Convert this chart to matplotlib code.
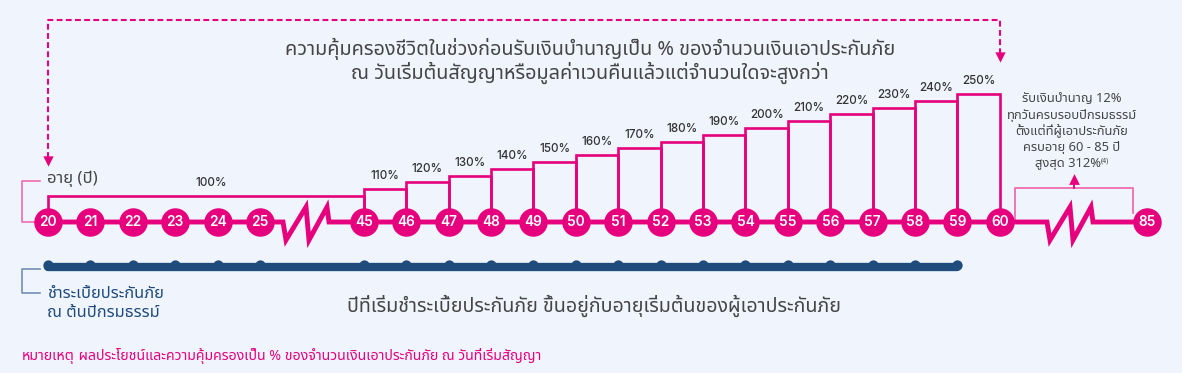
import matplotlib
matplotlib.use('Agg')
import matplotlib.pyplot as plt
from matplotlib import font_manager
from matplotlib.ft2font import FT2Font

# find an installed font that has Thai glyphs
def has_thai(path):
    try:
        return 0x0E01 in FT2Font(path).get_charmap()
    except Exception:
        return False

thai_fonts = []
for f in font_manager.fontManager.ttflist:
    if f.name not in thai_fonts and has_thai(f.fname):
        thai_fonts.append(f.name)
preferred = ['Noto Sans Thai', 'Noto Sans Thai UI', 'Noto Sans Thai Looped', 'Sarabun', 'Loma', 'Garuda', 'Waree']
thai_fonts.sort(key=lambda n: preferred.index(n) if n in preferred else 99)
plt.rcParams['font.family'] = thai_fonts[:1] + ['DejaVu Sans']
NUM_FONT = ['Inter', 'DejaVu Sans']

# ---- data ----
ages_early = [20, 21, 22, 23, 24, 25]
ages_late = [45, 46, 47, 48, 49, 50, 51, 52, 53, 54, 55, 56, 57, 58, 59, 60]
age_end = 85
# coverage % for each step: 20-45, then 45-46 ... 59-60
step_start = [20, 45, 46, 47, 48, 49, 50, 51, 52, 53, 54, 55, 56, 57, 58, 59]
step_end = [45, 46, 47, 48, 49, 50, 51, 52, 53, 54, 55, 56, 57, 58, 59, 60]
cover_pct = [100, 110, 120, 130, 140, 150, 160, 170, 180, 190, 200, 210, 220, 230, 240, 250]
pay_ages = ages_early + ages_late[:-1]  # premium paid at start of each policy year, 20..59

title_lines = ['ความคุ้มครองชีวิตในช่วงก่อนรับเงินบำนาญเป็น % ของจำนวนเงินเอาประกันภัย',
               'ณ วันเริ่มต้นสัญญาหรือมูลค่าเวนคืนแล้วแต่จำนวนใดจะสูงกว่า']
pension_lines = ['รับเงินบำนาญ 12%', 'ทุกวันครบรอบปีกรมธรรม์', 'ตั้งแต่ที่ผู้เอาประกันภัย',
                 'ครบอายุ 60 - 85 ปี', 'สูงสุด 312%']
age_label = 'อายุ (ปี)'
pay_label = ['ชำระเบี้ยประกันภัย', 'ณ ต้นปีกรมธรรม์']
pay_note = 'ปีที่เริ่มชำระเบี้ยประกันภัย ขึ้นอยู่กับอายุเริ่มต้นของผู้เอาประกันภัย'
note_head = 'หมายเหตุ'
note_text = ' ผลประโยชน์และความคุ้มครองเป็น % ของจำนวนเงินเอาประกันภัย ณ วันที่เริ่มสัญญา'

# ---- layout ----
W, H = 1182, 373
PX = 42.4            # pixels per age slot
X0 = 48              # pixel x of first circle
GAP1 = 2.45          # slots between 25 and 45
GAP2 = 3.47          # slots between 60 and 85
PCT_PX = 0.68        # pixels per percent
Y100 = 196           # pixel row of the 100% level

PINK = '#E6007E'
LPINK = '#EF6CB0'
NAVY = '#1F4B7D'
GRAY = '#454545'
BG = '#F0F5FD'

slot = {a: i for i, a in enumerate(ages_early)}
for i, a in enumerate(ages_late):
    slot[a] = len(ages_early) - 1 + GAP1 + i
slot[age_end] = slot[ages_late[-1]] + GAP2


def yv(py):
    # pixel row -> axis units (percent scale)
    return 100 + (Y100 - py) / PCT_PX


def xv(px):
    return (px - X0) / PX


base = yv(222)

fig = plt.figure(figsize=(W / 100, H / 100), dpi=100, facecolor=BG)
ax = fig.add_axes([0, 0, 1, 1])
ax.set_facecolor(BG)
ax.set_xlim(xv(0), xv(W))
ax.set_ylim(yv(H), yv(0))
ax.axis('off')

# dashed arrow from top
top = yv(20)
ax.plot([slot[20], slot[20], slot[60], slot[60]], [yv(158), top, top, yv(53)],
        color=PINK, lw=1.5, ls=(0, (2.8, 1.6)), zorder=2)
ax.scatter([slot[20], slot[60]], [yv(161), yv(57)], marker='v', s=55, color=PINK, lw=0, zorder=2)

# titles
for i, line in enumerate(title_lines):
    ax.text(xv(590), yv(49 + 24 * i), line, ha='center', va='center', fontsize=14.3, color=GRAY)

# coverage steps
for s, e, p in zip(step_start, step_end, cover_pct):
    ax.plot([slot[s], slot[s], slot[e], slot[e]], [base, p, p, base], color=PINK, lw=1.9,
            solid_joinstyle='miter', zorder=3)
    ax.text((slot[s] + slot[e]) / 2 + (0.12 if s == 20 else 0), p + 7 / PCT_PX, f'{p}%',
            ha='center', va='bottom', fontsize=8.4, color='#333333', family=NUM_FONT, fontweight='medium')

# baseline with zigzag breaks
zig_dx = [0, 3, 23, 26, 44, 46]
zig_dy = [0, -18, 15, -18, 15, 0]


def zigzag(x_start_px):
    return [xv(x_start_px + d) for d in zig_dx], [base + d / PCT_PX for d in zig_dy]


zx1, zy1 = zigzag(283)
zx2, zy2 = zigzag(1047)
ax.plot([slot[20]] + zx1 + [slot[45], slot[60]] + zx2 + [slot[85]],
        [base] + zy1 + [base, base] + zy2 + [base], color=PINK, lw=3.5,
        solid_joinstyle='miter', zorder=4)

# circles
all_ages = ages_early + ages_late + [age_end]
ax.scatter([slot[a] for a in all_ages], [base] * len(all_ages), s=420, color=PINK, lw=0, zorder=5)
for a in all_ages:
    ax.text(slot[a], base - 0.3 / PCT_PX, str(a), ha='center', va='center', color='white',
            fontsize=9.8, fontweight='semibold', family=NUM_FONT, zorder=6)

# age label bracket
ax.plot([xv(40), xv(22), xv(22), xv(34)], [yv(181), yv(181), yv(222), yv(222)], color=LPINK, lw=1.2)
ax.text(xv(47), yv(179), age_label, ha='left', va='center', fontsize=12, color=GRAY)

# pension bracket after 60
bx0, bx1 = slot[60] + 15 / PX, slot[85] - 14 / PX
ax.plot([bx0, bx0, bx1, bx1], [base, yv(188), yv(188), yv(213)], color=LPINK, lw=1.3, zorder=2)
mid = (bx0 + bx1) / 2
ax.plot([mid, mid], [yv(188), yv(181)], color=PINK, lw=1.3)
ax.scatter([mid], [yv(179)], marker='^', s=60, color=PINK, lw=0)
for i, line in enumerate(pension_lines):
    t = ax.text(xv(1072 - (4 if i == 4 else 0)), yv(99 + 16 * i), line, ha='center', va='center',
                fontsize=9.3, color=GRAY)
ax.annotate('(4)', xy=(1.0, 0.95), xycoords=t, ha='left', va='top', fontsize=5, color=GRAY)

# premium payment bar
ax.plot([slot[20], slot[59]], [yv(267)] * 2, color=NAVY, lw=6, solid_capstyle='round', zorder=2)
ax.scatter([slot[a] for a in pay_ages], [yv(265)] * len(pay_ages), s=55, color=NAVY, lw=0, zorder=3)
ax.plot([xv(40), xv(22), xv(22), xv(40)], [yv(269), yv(269), yv(293), yv(293)], color='#7090B5', lw=1.2)
ax.text(xv(47), yv(294), pay_label[0], ha='left', va='center', fontsize=11.8, color=NAVY)
ax.text(xv(47), yv(313), pay_label[1], ha='left', va='center', fontsize=11.8, color=NAVY)
ax.text(xv(594), yv(306), pay_note, ha='center', va='center', fontsize=14.1, color=GRAY)

# footnote
t = ax.text(xv(22), yv(356), note_head, ha='left', va='center', fontsize=10.2, color=PINK, fontweight='bold')
ax.annotate(note_text, xy=(1.0, 0.5), xycoords=t, ha='left', va='center', fontsize=10.2, color=PINK)

fig.savefig('out.png', dpi=100, facecolor=BG)
